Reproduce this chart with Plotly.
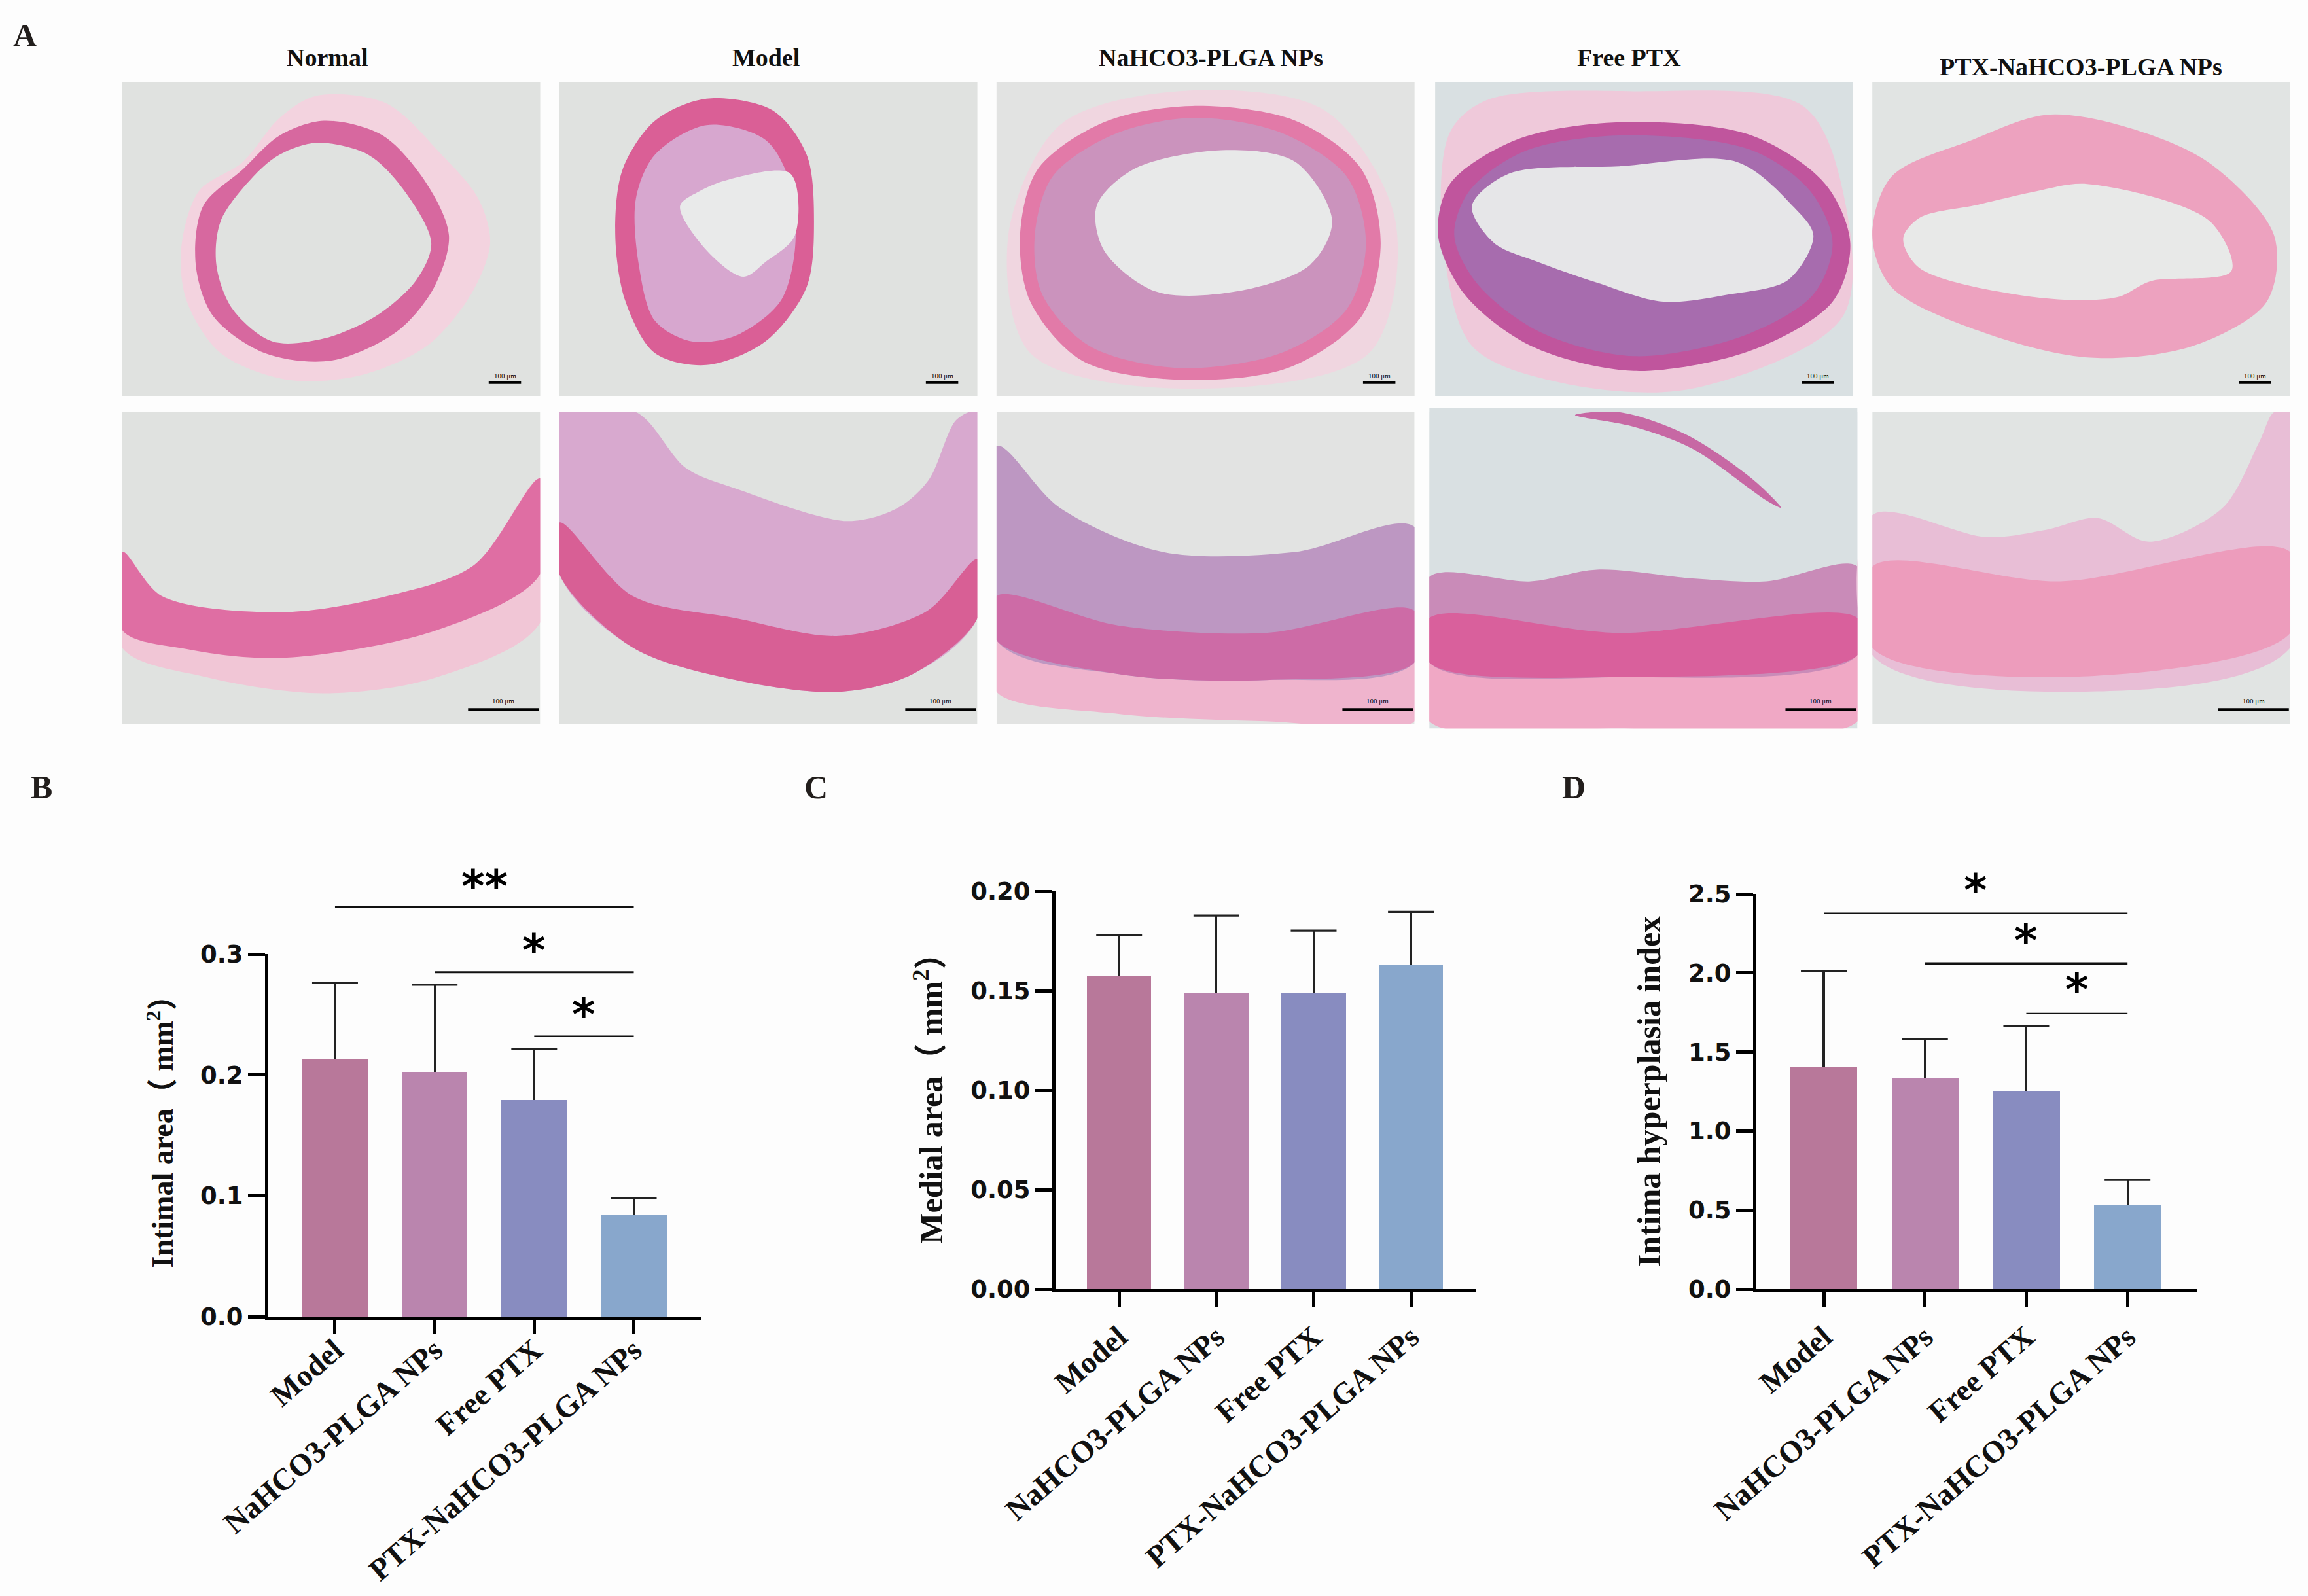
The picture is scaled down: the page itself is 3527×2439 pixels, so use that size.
import plotly.graph_objects as go

W, H = 3527, 2439
ESCALA = W / 1568

# ---------- datos ----------

grupos = ["Model", "NaHCO3-PLGA NPs", "Free PTX", "PTX-NaHCO3-PLGA NPs"]
colores = ["#b8789a", "#ba85ae", "#888cc0", "#88a7cc"]

intimal_area = [0.2135, 0.2028, 0.1792, 0.0843]
intimal_err = [0.0629, 0.0718, 0.0423, 0.0138]
intimal_ticks = [0.0, 0.1, 0.2, 0.3]
intimal_labels = ["0.0", "0.1", "0.2", "0.3"]
intimal_sig_y = [0.339, 0.285, 0.232]
intimal_sig_ancho = [2.2, 3, 2.2]
intimal_star_y = [0.356, 0.303, 0.250]
intimal_stars = ["**", "*", "*"]

medial_area = [0.1572, 0.1491, 0.1486, 0.1629]
medial_err = [0.0206, 0.0387, 0.0316, 0.0268]
medial_ticks = [0.0, 0.05, 0.10, 0.15, 0.20]
medial_labels = ["0.00", "0.05", "0.10", "0.15", "0.20"]

hiperplasia = [1.403, 1.338, 1.250, 0.535]
hiperplasia_err = [0.610, 0.242, 0.412, 0.156]
hiperplasia_ticks = [0.0, 0.5, 1.0, 1.5, 2.0, 2.5]
hiperplasia_labels = ["0.0", "0.5", "1.0", "1.5", "2.0", "2.5"]
hiperplasia_sig_y = [2.377, 2.06, 1.744]
hiperplasia_sig_ancho = [2.4, 3.6, 2]
hiperplasia_star_y = [2.523, 2.203, 1.893]
hiperplasia_stars = ["*", "*", "*"]

# ---------- fotos de histologia (contornos aproximados) ----------

marcos_arriba = [(83, 367), (380, 664), (677, 961), (975, 1259), (1272, 1556)]
marcos_abajo = [(83, 367), (380, 664), (677, 961), (971, 1262), (1272, 1556)]
fondo_foto = ["#e0e2e0", "#e0e2e0", "#e2e3e2", "#d9e0e2", "#e1e4e3"]

normal_adv = [(215, 65), (262, 70), (300, 105), (325, 135), (333, 165), (320, 200), (290, 235), (245, 255), (195, 258), (150, 240), (127, 205), (123, 170), (135, 130), (165, 110), (190, 80)]
normal_media = [(220, 82), (260, 92), (290, 125), (305, 160), (295, 195), (270, 225), (225, 245), (180, 240), (145, 215), (133, 180), (138, 140), (165, 115), (190, 92)]
normal_luz = [(215, 97), (250, 105), (275, 130), (293, 165), (283, 190), (255, 215), (220, 230), (185, 232), (158, 210), (147, 180), (150, 150), (172, 120), (190, 105)]

model_media = [(480, 67), (525, 75), (548, 105), (553, 150), (548, 195), (520, 232), (480, 248), (445, 240), (425, 205), (418, 160), (423, 115), (445, 82)]
model_intima = [(480, 85), (520, 95), (537, 125), (540, 170), (530, 205), (500, 228), (470, 232), (445, 218), (434, 180), (432, 135), (445, 105)]
model_luz = [(495, 122), (537, 118), (540, 160), (520, 178), (505, 188), (480, 170), (462, 140), (475, 130)]

nahco_adv = [(800, 62), (900, 75), (948, 150), (930, 240), (800, 264), (700, 240), (685, 160), (720, 85)]
nahco_media = [(810, 72), (880, 82), (925, 115), (938, 165), (925, 215), (875, 250), (800, 258), (735, 245), (700, 205), (693, 160), (705, 115), (750, 83)]
nahco_intima = [(810, 80), (870, 90), (915, 120), (928, 165), (915, 210), (870, 240), (800, 250), (740, 235), (708, 200), (703, 160), (715, 120), (755, 92)]
nahco_luz = [(830, 102), (880, 110), (905, 150), (890, 180), (840, 198), (785, 198), (750, 170), (745, 140), (770, 115)]

free_adv = [(1010, 68), (1110, 62), (1225, 72), (1252, 130), (1252, 215), (1150, 264), (1060, 260), (1000, 235), (980, 160), (985, 90)]
free_media = [(1100, 83), (1190, 92), (1240, 125), (1257, 165), (1245, 205), (1190, 238), (1110, 252), (1040, 235), (995, 200), (977, 160), (985, 125), (1030, 95)]
free_intima = [(1100, 92), (1190, 102), (1230, 130), (1245, 165), (1232, 200), (1185, 228), (1110, 242), (1045, 225), (1003, 192), (988, 160), (998, 130), (1035, 103)]
free_luz = [(1100, 113), (1180, 110), (1218, 140), (1232, 160), (1215, 190), (1175, 200), (1130, 205), (1085, 192), (1045, 178), (1015, 165), (1000, 140), (1025, 118)]

ptx_media = [(1390, 78), (1440, 85), (1500, 110), (1545, 160), (1540, 205), (1490, 235), (1420, 243), (1345, 225), (1285, 195), (1272, 160), (1285, 120), (1340, 95)]
ptx_luz = [(1418, 125), (1501, 150), (1516, 184), (1461, 191), (1438, 202), (1383, 202), (1304, 182), (1293, 162), (1304, 148), (1344, 139), (1383, 130)]

normal2_adv = [(83, 375), (110, 405), (190, 416), (263, 405), (322, 384), (367, 325), (367, 423), (297, 460), (220, 471), (140, 460), (83, 440)]
normal2_media = [(83, 375), (110, 405), (190, 416), (263, 405), (322, 384), (367, 325), (367, 390), (297, 428), (191, 447), (127, 441), (83, 428)]

model2_intima = [(380, 280), (432, 280), (466, 318), (500, 332), (576, 354), (610, 345), (631, 326), (650, 285), (664, 280), (664, 420), (620, 458), (570, 470), (500, 462), (430, 440), (380, 390)]
model2_media = [(380, 355), (430, 405), (500, 420), (570, 432), (630, 415), (664, 380), (664, 420), (620, 458), (570, 470), (500, 462), (430, 440), (380, 390)]

nahco2_adv = [(677, 435), (760, 458), (860, 462), (961, 450), (961, 490), (860, 490), (760, 485), (677, 470)]
nahco2_intima = [(677, 303), (720, 345), (790, 375), (880, 375), (961, 358), (961, 450), (860, 462), (760, 458), (677, 435)]
nahco2_media = [(677, 405), (760, 425), (860, 430), (961, 415), (961, 450), (860, 462), (760, 458), (677, 435)]

free2_adv = [(971, 450), (1100, 460), (1262, 445), (1262, 490), (1100, 495), (971, 490)]
free2_intima = [(971, 392), (1040, 395), (1085, 387), (1150, 393), (1200, 395), (1262, 385), (1262, 445), (1100, 460), (971, 450)]
free2_media = [(971, 420), (1100, 430), (1262, 420), (1262, 445), (1100, 460), (971, 450)]
free2_resto = [(1070, 282), (1110, 290), (1150, 305), (1200, 340), (1210, 345), (1190, 325), (1145, 295), (1100, 280)]

ptx2_adv = [(1272, 350), (1350, 365), (1390, 360), (1425, 352), (1460, 368), (1510, 345), (1535, 300), (1545, 280), (1556, 280), (1556, 440), (1400, 470), (1272, 445)]
ptx2_media = [(1272, 385), (1400, 395), (1556, 375), (1556, 430), (1400, 460), (1272, 440)]

capas = [
    (normal_adv, "#f3d3df"), (normal_media, "#d7689f"), (normal_luz, "#e0e2e0"),
    (model_media, "#da5f96"), (model_intima, "#d7a7cf"), (model_luz, "#e9eaea"),
    (nahco_adv, "#f0d6e0"), (nahco_media, "#e27aa8"), (nahco_intima, "#cb93bd"), (nahco_luz, "#e8e9e9"),
    (free_adv, "#efc9da"), (free_media, "#c0559d"), (free_intima, "#a76cae"), (free_luz, "#e6e6e8"),
    (ptx_media, "#eda2bf"), (ptx_luz, "#e8e9e8"),
    (normal2_adv, "#f1c6d6"), (normal2_media, "#df6ea3"),
    (model2_intima, "#d8a9cf"), (model2_media, "#d85f95"),
    (nahco2_adv, "#efb4cd"), (nahco2_intima, "#bd97c2"), (nahco2_media, "#cd6ba6"),
    (free2_adv, "#f0a8c5"), (free2_intima, "#c98bb8"), (free2_media, "#d9609c"), (free2_resto, "#c768a4"),
    (ptx2_adv, "#e8bed6"), (ptx2_media, "#ed9cbc"),
]

titulos = ["Normal", "Model", "NaHCO3-PLGA NPs", "Free PTX", "PTX-NaHCO3-PLGA NPs"]
titulos_x = [501, 1170, 1850, 2489, 3180]
titulos_y = [88, 88, 88, 88, 102]
letras = ["A", "B", "C", "D"]
letras_x = [38, 63, 1247, 2405]
letras_y = [54, 1203, 1203, 1203]

FONDO = "#fdfdfd"


def px_x(v):
    return v / W


def px_y(v):
    return 1 - v / H


fig = go.Figure()

# ---------- capa de fotos en pixeles ----------


def capa(puntos, color, forma):
    pts = puntos + puntos[:1]
    fig.add_trace(go.Scatter(
        x=[p[0] * ESCALA for p in pts], y=[p[1] * ESCALA for p in pts],
        mode="lines", fill="toself", fillcolor=color,
        line=dict(color=color, width=0, shape=forma, smoothing=0.9),
        xaxis="x4", yaxis="y4", showlegend=False, hoverinfo="skip"))


for i, (x0, x1) in enumerate(marcos_arriba):
    capa([(x0, 56), (x1, 56), (x1, 269), (x0, 269)], fondo_foto[i], "linear")
for i, (x0, x1) in enumerate(marcos_abajo):
    y0, y1 = (277, 495) if i == 3 else (280, 492)
    capa([(x0, y0), (x1, y0), (x1, y1), (x0, y1)], fondo_foto[i], "linear")
for puntos, color in capas:
    capa(puntos, color, "spline")

# tapa lo que se sale de cada foto (la cuarta de abajo es algo mas alta)
bordes = [(60, 83)] + [(marcos_abajo[i][1], marcos_abajo[i + 1][0]) for i in range(4)] + [(1556, 1568)]
for a, b in bordes:
    capa([(a, 270), (b, 270), (b, 505), (a, 505)], FONDO, "linear")
capa([(60, 269.5), (1568, 269.5), (1568, 277), (60, 277)], FONDO, "linear")
capa([(60, 277), (971, 277), (971, 280), (60, 280)], FONDO, "linear")
capa([(1262, 277), (1568, 277), (1568, 280), (1262, 280)], FONDO, "linear")
capa([(60, 492), (971, 492), (971, 505), (60, 505)], FONDO, "linear")
capa([(1262, 492), (1568, 492), (1568, 505), (1262, 505)], FONDO, "linear")
capa([(971, 495), (1262, 495), (1262, 505), (971, 505)], FONDO, "linear")

# barras de escala
for (x0, x1) in marcos_arriba:
    xs = [(x1 - 35) * ESCALA, (x1 - 13) * ESCALA]
    fig.add_trace(go.Scatter(x=xs, y=[260 * ESCALA] * 2, mode="lines", line=dict(color="black", width=4),
                             xaxis="x4", yaxis="y4", showlegend=False, hoverinfo="skip"))
    fig.add_annotation(x=sum(xs) / 2, y=255 * ESCALA, xref="x4", yref="y4", text="100 μm", showarrow=False,
                       font=dict(family="Liberation Serif", size=11, color="black"))
for (x0, x1) in marcos_abajo:
    xs = [(x1 - 49) * ESCALA, (x1 - 1) * ESCALA]
    fig.add_trace(go.Scatter(x=xs, y=[482 * ESCALA] * 2, mode="lines", line=dict(color="black", width=4),
                             xaxis="x4", yaxis="y4", showlegend=False, hoverinfo="skip"))
    fig.add_annotation(x=sum(xs) / 2, y=476 * ESCALA, xref="x4", yref="y4", text="100 μm", showarrow=False,
                       font=dict(family="Liberation Serif", size=11, color="black"))

# ---------- graficos de barras ----------

GROSOR_ERR = 3.2


def panel(n, valores, errores):
    eje = "" if n == 1 else str(n)
    fig.add_trace(go.Bar(
        x=grupos, y=valores, width=0.66, marker=dict(color=colores, line=dict(width=0)),
        error_y=dict(type="data", symmetric=False, array=errores, arrayminus=[0] * 4,
                     color="#222222", thickness=GROSOR_ERR, width=0),
        xaxis="x" + eje, yaxis="y" + eje, showlegend=False))
    # el remate solo arriba, plotly pondria otro pegado a la barra
    fig.add_trace(go.Scatter(
        x=grupos, y=[v + e for v, e in zip(valores, errores)], mode="markers", cliponaxis=False,
        marker=dict(symbol="line-ew", size=50, line=dict(width=GROSOR_ERR, color="#222222")),
        xaxis="x" + eje, yaxis="y" + eje, showlegend=False, hoverinfo="skip"))


def corchetes(eje_x_ref, eje_y_ref, niveles, anchos, estrellas_y, estrellas):
    for i in range(3):
        fig.add_trace(go.Scatter(
            x=[grupos[i], grupos[3]], y=[niveles[i]] * 2, mode="lines",
            line=dict(color="#111111", width=anchos[i]),
            xaxis=eje_x_ref, yaxis=eje_y_ref, showlegend=False, hoverinfo="skip"))
        fig.add_annotation(x=(i + 3) / 2, y=estrellas_y[i], xref=eje_x_ref, yref=eje_y_ref,
                           text=estrellas[i].replace("*", "&#42;"), showarrow=False,
                           font=dict(family="DejaVu Sans", size=68, color="black", weight="bold"))


panel(1, intimal_area, intimal_err)
panel(2, medial_area, medial_err)
panel(3, hiperplasia, hiperplasia_err)
corchetes("x", "y5", intimal_sig_y, intimal_sig_ancho, intimal_star_y, intimal_stars)
corchetes("x3", "y6", hiperplasia_sig_y, hiperplasia_sig_ancho, hiperplasia_star_y, hiperplasia_stars)


def eje_x(x0, x1, y_ancla, rango, acerca=0):
    return dict(domain=[px_x(x0), px_x(x1)], anchor=y_ancla, range=rango, type="category",
                categoryorder="array", categoryarray=grupos, automargin=False,
                showline=True, linecolor="black", linewidth=5, ticks="outside", ticklen=22, tickwidth=5,
                tickcolor="black", tickangle=-41, showgrid=False, zeroline=False, ticklabelstandoff=acerca,
                tickfont=dict(family="Liberation Serif", size=47, color="#111111", weight="bold"))


def eje_y(y_arriba, y_abajo, x_ancla, tope, ticks, textos, titulo, tam_titulo):
    return dict(domain=[px_y(y_abajo), px_y(y_arriba)], anchor=x_ancla, range=[0, tope],
                tickvals=ticks, ticktext=textos, automargin=False,
                showline=True, linecolor="black", linewidth=5, ticks="outside", ticklen=26, tickwidth=5,
                tickcolor="black", showgrid=False, zeroline=False,
                tickfont=dict(family="DejaVu Sans", size=37, color="#111111", weight="bold"),
                title=dict(text=titulo, standoff=28,
                           font=dict(family="Liberation Serif, Noto Sans CJK SC", size=tam_titulo, color="#111111", weight="bold")))


def eje_corchetes(y_arriba, y_abajo, x_ancla, tope):
    # mismo cero y misma escala que el panel, solo que sube mas para los corchetes
    return dict(domain=[px_y(y_abajo), px_y(y_arriba)], anchor=x_ancla, range=[0, tope],
                visible=False, automargin=False)


fig.update_layout(
    width=W, height=H, margin=dict(l=0, r=0, t=0, b=0), autosize=False,
    paper_bgcolor=FONDO, plot_bgcolor="rgba(0,0,0,0)", showlegend=False, bargap=0,
    xaxis=eje_x(410, 1072, "y", [-0.67, 3.68], acerca=-22),
    yaxis=eje_y(1458, 2012, "x", 0.3, intimal_ticks, intimal_labels, "&nbsp;&nbsp;&nbsp;Intimal area（ mm<sup>2</sup>）", 46),
    xaxis2=eje_x(1613, 2256, "y2", [-0.654, 3.672]),
    yaxis2=eje_y(1362, 1970, "x2", 0.2, medial_ticks, medial_labels, "Medial area（ mm<sup>2</sup>）", 50),
    xaxis3=eje_x(2684, 3357, "y3", [-0.666, 3.684]),
    yaxis3=eje_y(1366, 1970, "x3", 2.5, hiperplasia_ticks, hiperplasia_labels, "Intima hyperplasia index", 50),
    xaxis4=dict(domain=[0, 1], range=[0, W], visible=False, anchor="y4", automargin=False),
    yaxis4=dict(domain=[0, 1], range=[H, 0], visible=False, anchor="x4", automargin=False),
    yaxis5=eje_corchetes(1300, 2012, "x", 0.3 * (2012 - 1300) / (2012 - 1458)),
    yaxis6=eje_corchetes(1290, 1970, "x3", 2.5 * (1970 - 1290) / (1970 - 1366)),
)

for t, x, y in zip(titulos, titulos_x, titulos_y):
    fig.add_annotation(x=px_x(x), y=px_y(y), xref="paper", yref="paper", text=t, showarrow=False,
                       xanchor="center", yanchor="middle",
                       font=dict(family="Liberation Serif", size=38, color="#111111", weight="bold"))
for t, x, y in zip(letras, letras_x, letras_y):
    fig.add_annotation(x=px_x(x), y=px_y(y), xref="paper", yref="paper", text=t, showarrow=False,
                       xanchor="center", yanchor="middle",
                       font=dict(family="Liberation Serif", size=50, color="#221e1c", weight="bold"))

fig.write_html("out.html", config={"displayModeBar": False},
               post_script="document.body.style.margin='0';")
